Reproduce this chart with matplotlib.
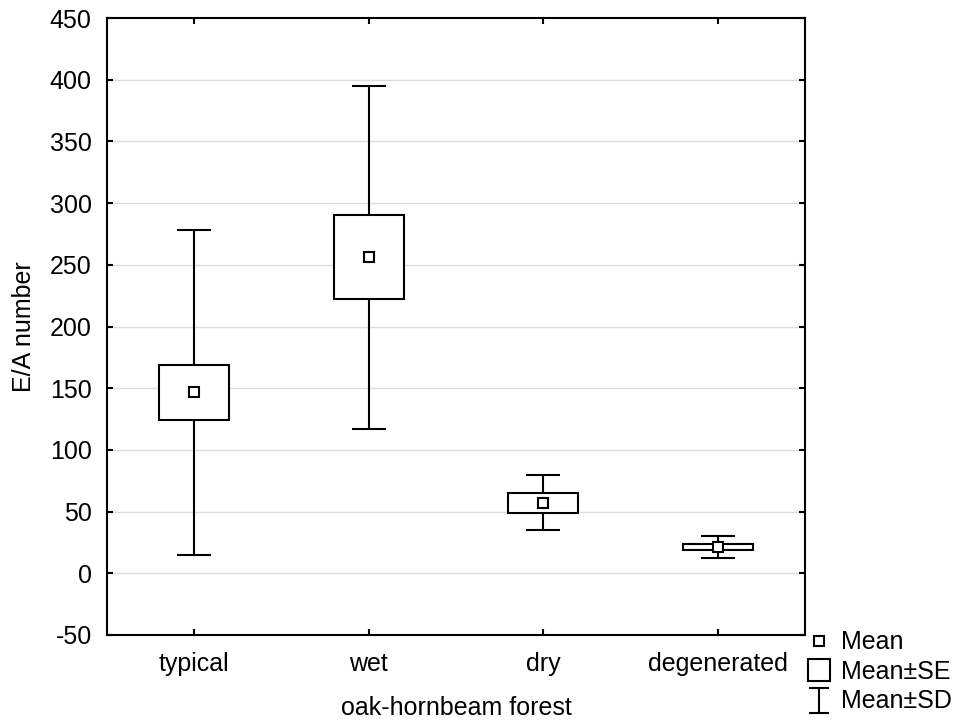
import numpy as np
import matplotlib
matplotlib.use('Agg')
import matplotlib.pyplot as plt
from matplotlib.lines import Line2D
from matplotlib.path import Path

# values
categories = ['typical', 'wet', 'dry', 'degenerated']
means = [146.7, 256.0, 57.0, 21.2]
se = [22.5, 34.0, 7.8, 2.3]
sd = [131.5, 139.0, 22.3, 8.9]
yticks = [-50, 0, 50, 100, 150, 200, 250, 300, 350, 400, 450]

plt.rcParams['font.family'] = ['Liberation Sans', 'DejaVu Sans']
plt.rcParams['font.size'] = 18
plt.rcParams['axes.unicode_minus'] = False

fig = plt.figure(figsize=(9.61, 7.22), dpi=100)
ax = fig.add_axes([0.1113, 0.1205, 0.7264, 0.8545])

x = np.arange(1, len(categories) + 1)
lw = 1.5

# grid
for yt in yticks[1:-1]:
    ax.axhline(yt, color='#dddddd', lw=1.0, zorder=0)

# mean +- SD whiskers
ax.errorbar(x, means, yerr=sd, fmt='none', ecolor='black', elinewidth=lw,
            capsize=12.5, capthick=lw, zorder=1)
# mean +- SE boxes
ax.bar(x, 2 * np.array(se), bottom=np.array(means) - np.array(se), width=0.4,
       color='white', edgecolor='black', linewidth=lw, zorder=2)
# means
ax.plot(x, means, ls='none', marker='s', ms=7, mfc='white', mec='black',
        mew=lw, zorder=3)

ax.set_xlim(0.5, 4.5)
ax.set_ylim(-50, 450)
ax.set_yticks(yticks)
ax.set_xticks(x)
ax.set_xticklabels(categories)
ax.tick_params(direction='in', length=4, width=lw, top=True, right=True,
               labelsize=18)
ax.tick_params(axis='y', pad=11)
ax.tick_params(axis='x', pad=12)
for sp in ax.spines.values():
    sp.set_linewidth(lw)

ax.set_xlabel('oak-hornbeam forest', fontsize=18, labelpad=15)
ax.set_ylabel('E/A number', fontsize=18, labelpad=10)

# legend
ibeam = Path([(-0.8, 1), (0.8, 1), (0, 1), (0, -1), (-0.8, -1), (0.8, -1)],
             [Path.MOVETO, Path.LINETO, Path.MOVETO, Path.LINETO,
              Path.MOVETO, Path.LINETO])
handles = [
    Line2D([], [], ls='none', marker='s', ms=7, mfc='white', mec='black', mew=lw),
    Line2D([], [], ls='none', marker='s', ms=16, mfc='white', mec='black', mew=lw),
    Line2D([], [], ls='none', marker=ibeam, ms=18, mec='black', mew=lw),
]
fig.legend(handles, ['Mean', 'Mean\u00b1SE', 'Mean\u00b1SD'],
           loc='upper left', bbox_to_anchor=(0.839, 0.127), frameon=False,
           handlelength=1.0, handletextpad=0.4, labelspacing=0.22,
           borderpad=0.0, borderaxespad=0.0, fontsize=18)

fig.savefig('out.png', dpi=100)
